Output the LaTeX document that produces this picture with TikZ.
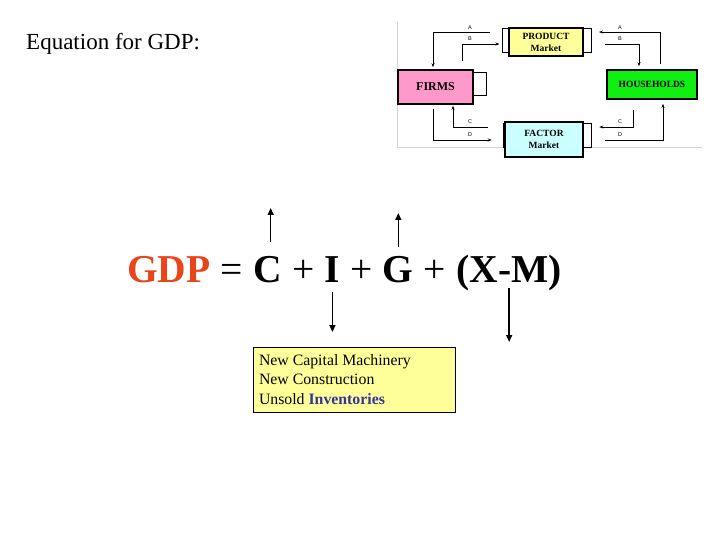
\documentclass[tikz,border=0pt]{standalone}
\usepackage{fontspec}
\setmainfont{Liberation Serif}
\newfontfamily\labfont{Liberation Sans}
\usetikzlibrary{positioning, arrows.meta}
\definecolor{gdporange}{HTML}{E8451A}
\definecolor{invblue}{HTML}{333399}
\definecolor{prodyellow}{HTML}{FFFF99}
\definecolor{firmpink}{HTML}{FF99CC}
\definecolor{hhgreen}{HTML}{11EE11}
\definecolor{factcyan}{HTML}{CCFFFF}
\definecolor{notebox}{HTML}{FFFF99}

\begin{document}
\begin{tikzpicture}[x=1pt, y=-1pt,
    box/.style = {draw, line width=1.6pt, align=center, inner sep=0pt, font=\fontsize{9.5}{12}\selectfont\bfseries},
    back/.style = {draw, line width=0.5pt, inner sep=0pt},
    flow/.style = {-{Stealth[length=4pt,width=3pt]}, line width=0.6pt},
    lab/.style = {inner sep=0pt, font=\labfont\fontsize{5.5}{6}\selectfont},
    term/.style = {inner sep=0pt, font=\fontsize{39.5}{44}\selectfont\bfseries},
    op/.style = {inner sep=0pt, font=\fontsize{39.5}{44}\selectfont},
    eqarrow/.style = {-{Triangle[length=7pt,width=6pt]}, line width=1.4pt}]
    \useasboundingbox (0,0) rectangle (720,540);

    % title
    \node[anchor=base west, inner sep=0pt, font=\fontsize{23}{26}\selectfont] (title) at (26,50) {Equation for GDP:};

    % circular flow picture
    \draw[gray!35] (397,22) -- (397,147) -- (702,147);
    \node[back, minimum width=89pt, minimum height=24pt] (productback) at (547.2,40.3) {};
    \node[back, minimum width=89pt, minimum height=23pt] (firmsback) at (441.3,83.7) {};
    \node[back, minimum width=88pt, minimum height=24pt] (factorback) at (547,135) {};
    \node[box, fill=prodyellow, minimum width=74pt, minimum height=28pt] (product) at (546,42) {PRODUCT\\Market};
    \node[box, fill=firmpink, minimum width=75pt, minimum height=34pt, font=\fontsize{12}{14}\selectfont\bfseries] (firms) at (435.5,87) {FIRMS};
    \node[box, fill=hhgreen, minimum width=90pt, minimum height=29pt] (households) at (652,84.5) {HOUSEHOLDS};
    \node[box, fill=factcyan, minimum width=78pt, minimum height=35pt] (factor) at (544,139.5) {FACTOR\\Market};

    \coordinate (rowA) at (0,32); \coordinate (rowB) at (0,44);
    \coordinate (rowC) at (0,127); \coordinate (rowD) at (0,140);

    \draw[flow] ([xshift=-12pt]productback.west |- rowA) -| ([xshift=-2.5pt,yshift=2pt]firms.north);
    \draw[flow] ([xshift=26.5pt,yshift=8pt]firms.north) |- ([xshift=-3pt]productback.west |- rowB);
    \draw[flow] ([xshift=8pt,yshift=5pt]households.north) |- ([xshift=7pt]productback.east |- rowA);
    \draw[flow] ([xshift=13pt]productback.east |- rowB) -| ([xshift=-13pt,yshift=3pt]households.north);
    \draw[flow] ([xshift=-15pt]factorback.west |- rowC) -| ([xshift=17.5pt,yshift=-1pt]firms.south);
    \draw[flow] ([xshift=-2.5pt,yshift=-4pt]firms.south) |- ([xshift=-11pt]factorback.west |- rowD);
    \draw[flow] ([xshift=-19pt,yshift=-10pt]households.south) |- ([xshift=8pt]factorback.east |- rowC);
    \draw[flow] ([xshift=14pt]factorback.east |- rowD) -| ([xshift=11pt,yshift=-4pt]households.south);

    \node[lab] (la1) at (470,28) {A}; \node[lab] (lb1) at (470,39) {B};
    \node[lab] (lc1) at (470,122) {C}; \node[lab] (ld1) at (470,135) {D};
    \node[lab] (la2) at (620,28) {A}; \node[lab] (lb2) at (620,39) {B};
    \node[lab] (lc2) at (620,122) {C}; \node[lab] (ld2) at (620,135) {D};

    % the equation
    \node[term, text=gdporange, anchor=base west] (gdp) at (127,282) {GDP};
    \node[op, base right=0pt of gdp] (eq) {\ =\ \mbox{}};
    \node[term, base right=0pt of eq] (c) {C};
    \node[op, base right=0pt of c] (p1) {\ +\ \mbox{}};
    \node[term, base right=0pt of p1] (i) {I};
    \node[op, base right=0pt of i] (p2) {\ +\ \mbox{}};
    \node[term, base right=0pt of p2] (g) {G};
    \node[op, base right=0pt of g] (p3) {\ +\ \mbox{}};
    \node[term, base right=0pt of p3] (xm) {(X-M)};

    \draw[eqarrow] ([xshift=3pt,yshift=40pt]c.base) -- ([xshift=3pt,yshift=74pt]c.base);
    \draw[eqarrow] ([yshift=35pt]g.base) -- ([yshift=69pt]g.base);
    \draw[eqarrow] ([yshift=-10pt]i.base) -- ([yshift=-50pt]i.base);
    \draw[eqarrow] ([yshift=-6pt]xm.base) -- ([yshift=-60pt]xm.base);

    % investment note
    \node[draw, fill=notebox, line width=0.6pt, text width=190pt, inner xsep=6pt, minimum height=65pt, align=flush left,
          font=\fontsize{15.8}{19.5}\selectfont] (invest) at (354,379.5)
          {New Capital Machinery\\New Construction\\Unsold \textcolor{invblue}{\textbf{Inventories}}};
\end{tikzpicture}
\end{document}
